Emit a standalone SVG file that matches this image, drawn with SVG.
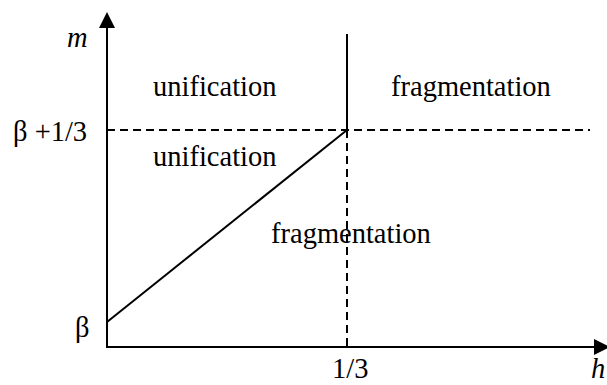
<svg xmlns="http://www.w3.org/2000/svg" width="607" height="385" viewBox="0 0 607 385">
<style>
.ax{stroke:#000;stroke-width:2;fill:none}
.ln{stroke:#000;stroke-width:2;fill:none}
.dash{stroke:#000;stroke-width:2;fill:none;stroke-dasharray:8 5}
text{font-family:"Liberation Serif","Times New Roman",serif;font-size:28.5px;fill:#000}
.it{font-style:italic}
</style>
<rect width="607" height="385" fill="#fff"/>
<g id="connectors">
<path class="ax" d="M107,347 L107,27"/>
<path d="M99,28 L107,12 L115,28 Z" fill="#000"/>
<path class="ax" d="M106,347 L595,347"/>
<path d="M594,339 L610,347 L594,355 Z" fill="#000"/>
<path class="ln" d="M347,34 L347,130"/>
<path class="ln" d="M107,322 L347,130"/>
<path class="dash" d="M107,130 L590,130"/>
<path class="dash" d="M347,130 L347,347"/>
</g>
<g id="labels">
<text class="it" x="67" y="47">m</text>
<text x="13" y="141">β +1/3</text>
<text x="75" y="337">β</text>
<text x="332" y="378">1/3</text>
<text class="it" x="591" y="378">h</text>
</g>
<g id="region-unification-top"><text x="153" y="96">unification</text></g>
<g id="region-fragmentation-top"><text x="391" y="96">fragmentation</text></g>
<g id="region-unification-mid"><text x="153" y="166">unification</text></g>
<g id="region-fragmentation-low"><text x="271" y="243">fragmentation</text></g>
</svg>
